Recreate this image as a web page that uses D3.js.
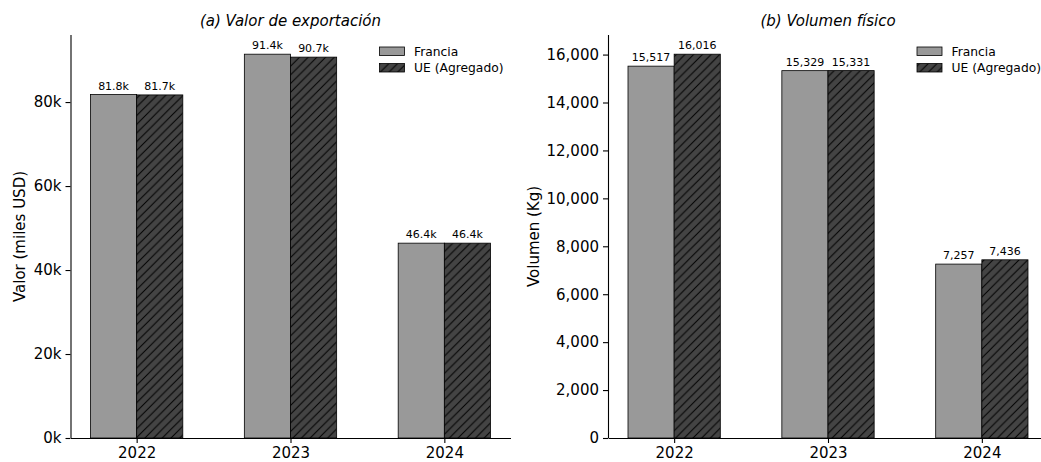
<!DOCTYPE html>
<html>
<head>
<meta charset="utf-8">
<script src="https://cdn.jsdelivr.net/npm/d3@7"></script>
<style>
  html, body { margin: 0; padding: 0; background: #fff; }
  svg { display: block; font-family: "DejaVu Sans", sans-serif; }
</style>
</head>
<body>
<svg id="chart" width="1041" height="462"></svg>
<script>
// Years on the category axis
const years = ["2022", "2023", "2024"];
const seriesNames = ["Francia", "UE (Agregado)"];

// Export value, thousands of USD
const valorFrancia = [81.8, 91.4, 46.4];
const valorUE = [81.7, 90.7, 46.4];

// Physical volume, kg
const volumenFrancia = [15517, 15329, 7257];
const volumenUE = [16016, 15331, 7436];

// Y tick values per panel
const valorTicks = [0, 20, 40, 60, 80];
const volumenTicks = [0, 2000, 4000, 6000, 8000, 10000, 12000, 14000, 16000];

const svg = d3.select("#chart");

const colors = { fr: "#999999", ue: "#444444" };

// Diagonal "//" hatch for the EU bars
const hs = 8.7;
const defs = svg.append("defs");
const pat = defs.append("pattern")
  .attr("id", "hatch")
  .attr("patternUnits", "userSpaceOnUse")
  .attr("width", hs).attr("height", hs);
pat.append("rect").attr("width", hs).attr("height", hs).attr("fill", colors.ue);
pat.append("path")
  .attr("d", `M${-hs/4},${hs/4} l${hs/2},${-hs/2} M0,${hs} l${hs},${-hs} M${3*hs/4},${5*hs/4} l${hs/2},${-hs/2}`)
  .attr("stroke", "#000").attr("stroke-width", 1.0).attr("fill", "none");

const panelTop = 35, panelBottom = 438, panelWidth = 440;
const barW = 0.3;

function drawPanel(opts) {
  const g = svg.append("g");
  const x = d3.scaleLinear().domain([-0.43, years.length - 1 + 0.43])
    .range([opts.left, opts.left + panelWidth]);
  const maxV = d3.max([...opts.fr, ...opts.ue]);
  const y = d3.scaleLinear().domain([0, maxV * 1.05]).range([panelBottom, panelTop]);

  const bars = [];
  years.forEach((yr, i) => {
    bars.push({ i, v: opts.fr[i], x0: i - barW, fill: colors.fr });
    bars.push({ i, v: opts.ue[i], x0: i, fill: "url(#hatch)" });
  });

  g.selectAll("rect.bar").data(bars).join("rect")
    .attr("class", "bar")
    .attr("x", d => x(d.x0))
    .attr("width", d => x(d.x0 + barW) - x(d.x0))
    .attr("y", d => y(d.v))
    .attr("height", d => y(0) - y(d.v))
    .attr("fill", d => d.fill)
    .attr("stroke", "#000")
    .attr("stroke-width", 0.8);

  g.selectAll("text.val").data(bars).join("text")
    .attr("class", "val")
    .attr("x", d => x(d.x0 + barW / 2))
    .attr("y", d => y(d.v) - 5)
    .attr("text-anchor", "middle")
    .attr("font-size", 11)
    .attr("fill", "#000")
    .text(d => opts.fmtLabel(d.v));

  // Y axis
  const yAxis = d3.axisLeft(y).tickValues(opts.ticks).tickFormat(opts.fmtTick)
    .tickSize(5).tickSizeOuter(0).tickPadding(4);
  const ya = g.append("g").attr("transform", `translate(${opts.left},0)`).call(yAxis);
  ya.select(".domain").attr("stroke-width", 1.1).attr("d", `M0.5,${panelBottom}V${panelTop}`);
  ya.selectAll(".tick line").attr("stroke-width", 1.1);
  ya.selectAll(".tick text").attr("font-size", 15).attr("font-family", "DejaVu Sans").attr("fill", "#000");

  // X axis
  const xAxis = d3.axisBottom(x).tickValues(years.map((d, i) => i))
    .tickFormat(i => years[i]).tickSize(5).tickSizeOuter(0).tickPadding(4);
  const xa = g.append("g").attr("transform", `translate(0,${panelBottom})`).call(xAxis);
  xa.select(".domain").attr("stroke-width", 1.1);
  xa.selectAll(".tick line").attr("stroke-width", 1.1);
  xa.selectAll(".tick text").attr("font-size", 15).attr("font-family", "DejaVu Sans").attr("fill", "#000");

  // Title
  g.append("text")
    .attr("x", opts.left + panelWidth / 2)
    .attr("y", 26)
    .attr("text-anchor", "middle")
    .attr("font-size", 15)
    .attr("font-style", "italic")
    .text(opts.title);

  // Y label
  g.append("text")
    .attr("transform", `translate(${opts.ylabelX},${(panelTop + panelBottom) / 2}) rotate(-90)`)
    .attr("text-anchor", "middle")
    .attr("font-size", 15)
    .text(opts.ylabel);

  // Legend
  const right = opts.left + panelWidth;
  const lg = g.append("g");
  const items = [{ name: seriesNames[0], fill: colors.fr }, { name: seriesNames[1], fill: "url(#hatch)" }];
  const px = right - 131;
  items.forEach((it, k) => {
    const cy = 51 + k * 16.5;
    lg.append("rect")
      .attr("x", px).attr("y", cy - 4)
      .attr("width", 25).attr("height", 8.5)
      .attr("fill", it.fill).attr("stroke", "#000").attr("stroke-width", 0.8);
    lg.append("text")
      .attr("x", px + 34.5).attr("y", cy + 4.5)
      .attr("font-size", 12.3)
      .text(it.name);
  });
}

drawPanel({
  left: 70.5,
  fr: valorFrancia, ue: valorUE,
  ticks: valorTicks,
  fmtTick: d => d + "k",
  fmtLabel: v => v.toFixed(1) + "k",
  title: "(a) Valor de exportación",
  ylabel: "Valor (miles USD)",
  ylabelX: 25
});

drawPanel({
  left: 608,
  fr: volumenFrancia, ue: volumenUE,
  ticks: volumenTicks,
  fmtTick: d3.format(","),
  fmtLabel: d3.format(","),
  title: "(b) Volumen físico",
  ylabel: "Volumen (Kg)",
  ylabelX: 539
});
</script>
</body>
</html>
